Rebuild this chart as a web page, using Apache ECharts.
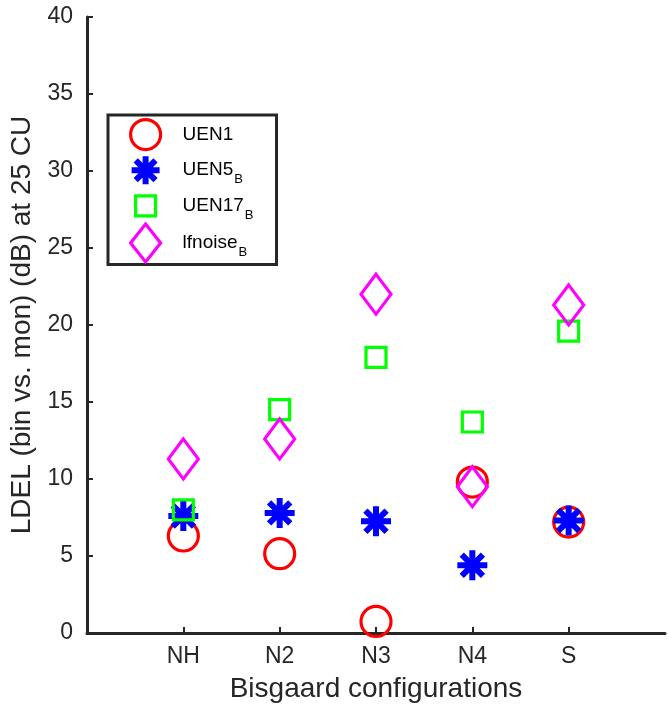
<!DOCTYPE html>
<html>
<head>
<meta charset="utf-8">
<script src="https://cdn.jsdelivr.net/npm/echarts@6/dist/echarts.min.js"></script>
<style>
  html, body { margin: 0; padding: 0; background: #ffffff; }
  #chart { width: 668px; height: 710px; }
</style>
</head>
<body>
<div id="chart"></div>
<script>
// Hearing-aid configurations along the x axis
const configurations = ['NH', 'N2', 'N3', 'N4', 'S'];

// LDEL (bin vs. mon) in dB at 25 CU, one value per configuration
const uen1     = [6.3, 5.15, 0.75, 9.8, 7.2];
const uen5B    = [7.6, 7.8, 7.25, 4.4, 7.3];
const uen17B   = [8.0, 14.5, 17.9, 13.7, 19.6];
const lfnoiseB = [11.3, 12.6, 22.0, 9.5, 21.3];

// y axis ticks
const yMin = 0;
const yMax = 40;
const yStep = 5;

// Legend text: main part and subscript
const legendText = {
  UEN1: ['UEN1', ''],
  UEN5: ['UEN5', 'B'],
  UEN17: ['UEN17', 'B'],
  lfnoise: ['lfnoise', 'B']
};

// Blank categories at both ends leave room around the five configurations
const axisCategories = [''].concat(configurations, ['']);

const FONT = '"Liberation Sans", Arial, Helvetica, sans-serif';
const AXIS_COLOR = '#262626';

// Eight-armed asterisk built from four filled bars
function asteriskPath(cx, cy, r, hw, frame) {
  const d = r * Math.SQRT1_2, o = hw * Math.SQRT1_2;
  const f = n => +n.toFixed(2);
  const poly = pts => 'M' + pts.map(p => f(p[0]) + ' ' + f(p[1])).join(' L') + ' Z ';
  let s = frame ? 'M0 0 M' + frame[0] + ' ' + frame[1] + ' ' : '';
  s += poly([[cx - r, cy - hw], [cx + r, cy - hw], [cx + r, cy + hw], [cx - r, cy + hw]]);
  s += poly([[cx - hw, cy - r], [cx + hw, cy - r], [cx + hw, cy + r], [cx - hw, cy + r]]);
  s += poly([[cx - d + o, cy - d - o], [cx + d + o, cy + d - o], [cx + d - o, cy + d + o], [cx - d - o, cy - d + o]]);
  s += poly([[cx + d - o, cy - d - o], [cx + d + o, cy - d + o], [cx - d + o, cy + d + o], [cx - d - o, cy + d - o]]);
  return 'path://' + s;
}

// Legend icons share a 64x40 frame so each keeps its own size
const ICON_FRAME = 'M0 0 M64 40 ';
const legendIcons = {
  UEN1: 'path://' + ICON_FRAME + 'M47 20 A15 15 0 1 1 17 20 A15 15 0 1 1 47 20 Z',
  UEN5: asteriskPath(32, 20, 14, 3, [64, 40]),
  UEN17: 'path://' + ICON_FRAME + 'M22 10 L42 10 L42 30 L22 30 Z',
  lfnoise: 'path://' + ICON_FRAME + 'M32 1 L47 20 L32 39 L17 20 Z'
};

function pairs(values) {
  return configurations.map((c, i) => [c, values[i]]);
}

function hollow(color) {
  return { color: 'transparent', borderColor: color, borderWidth: 3.2, opacity: 1 };
}

const chart = echarts.init(document.getElementById('chart'), null, { renderer: 'canvas' });

chart.setOption({
  animation: false,
  backgroundColor: '#ffffff',
  textStyle: { fontFamily: FONT },
  grid: { left: 87, right: -7, top: 17, bottom: 77, containLabel: false },
  xAxis: {
    type: 'category',
    data: axisCategories,
    boundaryGap: false,
    name: 'Bisgaard configurations',
    nameLocation: 'middle',
    nameGap: 42,
    nameTextStyle: { fontSize: 28, color: AXIS_COLOR, fontFamily: FONT },
    axisLine: { show: true, lineStyle: { color: AXIS_COLOR, width: 3 } },
    axisTick: {
      show: true, inside: true, length: 6,
      interval: (idx, val) => val !== '',
      lineStyle: { color: AXIS_COLOR, width: 2 }
    },
    axisLabel: {
      show: true, interval: 0, margin: 12,
      fontSize: 23, color: AXIS_COLOR, fontFamily: FONT
    },
    splitLine: { show: false }
  },
  yAxis: {
    type: 'value',
    min: yMin, max: yMax, interval: yStep,
    name: 'LDEL (bin vs. mon) (dB) at 25 CU',
    nameLocation: 'middle',
    nameGap: 50,
    nameTextStyle: { fontSize: 28, color: AXIS_COLOR, fontFamily: FONT },
    axisLine: { show: true, lineStyle: { color: AXIS_COLOR, width: 3 } },
    axisTick: { show: true, inside: true, length: 6, lineStyle: { color: AXIS_COLOR, width: 2 } },
    axisLabel: { margin: 14, fontSize: 23, color: AXIS_COLOR, fontFamily: FONT },
    splitLine: { show: false }
  },
  legend: {
    orient: 'vertical',
    left: 108,
    top: 115,
    padding: [-2, 23, 0, 4],
    itemWidth: 64,
    itemHeight: 40,
    itemGap: -6,
    selectedMode: false,
    borderColor: AXIS_COLOR,
    borderWidth: 3,
    backgroundColor: '#ffffff',
    formatter: name => {
      const t = legendText[name];
      return t[1] ? '{m|' + t[0] + '}{s|' + t[1] + '}' : '{m|' + t[0] + '}';
    },
    textStyle: {
      fontFamily: FONT,
      color: '#000000',
      rich: {
        m: { fontSize: 19, lineHeight: 20, color: '#000000', fontFamily: FONT, verticalAlign: 'middle' },
        s: { fontSize: 13, lineHeight: 13, color: '#000000', fontFamily: FONT, verticalAlign: 'middle', padding: [19, 0, 0, 1] }
      }
    },
    data: [
      { name: 'UEN1', icon: legendIcons.UEN1, itemStyle: hollow('#ff0000') },
      { name: 'UEN5', icon: legendIcons.UEN5, itemStyle: { color: '#0000ff', borderWidth: 0, opacity: 1 } },
      { name: 'UEN17', icon: legendIcons.UEN17, itemStyle: hollow('#00ff00') },
      { name: 'lfnoise', icon: legendIcons.lfnoise, itemStyle: hollow('#ff00ff') }
    ]
  },
  series: [
    {
      name: 'UEN1', type: 'scatter', data: pairs(uen1),
      symbol: 'circle', symbolSize: 30,
      itemStyle: hollow('#ff0000'),
      emphasis: { disabled: true }
    },
    {
      name: 'UEN5', type: 'scatter', data: pairs(uen5B),
      symbol: asteriskPath(15, 15, 15, 3), symbolSize: 30,
      itemStyle: { color: '#0000ff', borderWidth: 0, opacity: 1 },
      emphasis: { disabled: true }
    },
    {
      name: 'UEN17', type: 'scatter', data: pairs(uen17B),
      symbol: 'rect', symbolSize: 20,
      itemStyle: hollow('#00ff00'),
      emphasis: { disabled: true }
    },
    {
      name: 'lfnoise', type: 'scatter', data: pairs(lfnoiseB),
      symbol: 'diamond', symbolSize: [30, 40],
      itemStyle: hollow('#ff00ff'),
      emphasis: { disabled: true }
    }
  ]
});
</script>
</body>
</html>
